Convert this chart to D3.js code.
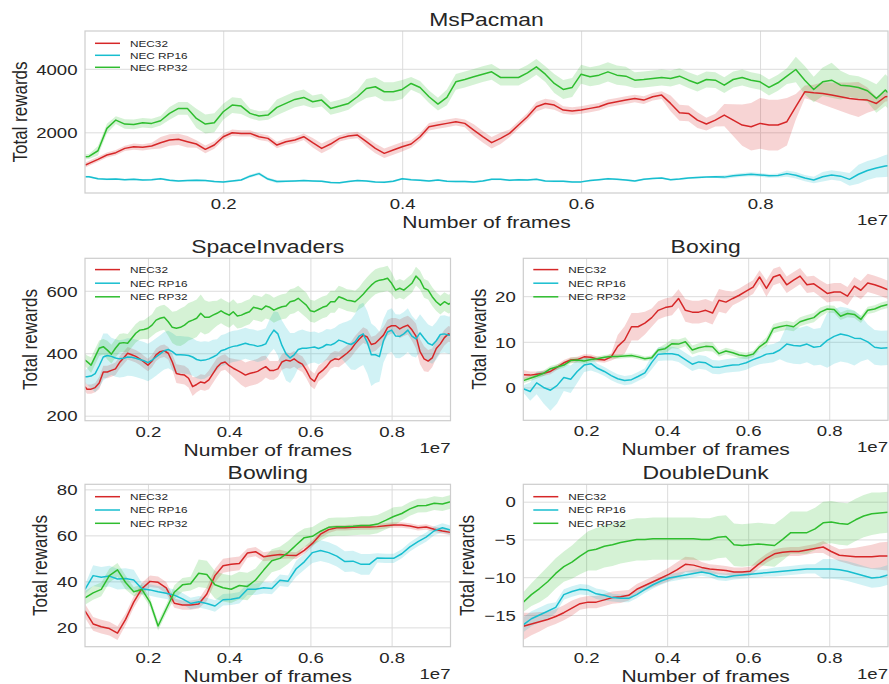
<!DOCTYPE html>
<html><head><meta charset="utf-8">
<script src="https://cdn.jsdelivr.net/npm/d3@7"></script>
<style>
html,body{margin:0;padding:0;background:#fff;}
svg{display:block;background:#fff;}
text{font-family:"Liberation Sans",Arial,Helvetica,sans-serif;fill:#262626;}
</style></head><body>
<svg id="chart" width="889" height="684"></svg>
<script>
// ---------------- DATA ----------------
const seriesNames = ["NEC32", "NEC RP16", "NEC RP32"];
const xTickValues = [0.2, 0.4, 0.6, 0.8];
const xLabel = "Number of frames";
const yLabel = "Total rewards";
const xOffsetText = "1e7";

// MsPacman
const msFrames = [0.046,0.05,0.06,0.07,0.08,0.09,0.10,0.11,0.12,0.13,0.14,0.15,0.16,0.17,0.18,0.19,0.20,0.21,0.22,0.23,0.24,0.25,0.26,0.27,0.28,0.29,0.30,0.31,0.32,0.33,0.34,0.35,0.36,0.37,0.38,0.39,0.40,0.41,0.42,0.43,0.44,0.45,0.46,0.47,0.48,0.49,0.50,0.51,0.52,0.53,0.54,0.55,0.56,0.57,0.58,0.59,0.60,0.61,0.62,0.63,0.64,0.65,0.66,0.67,0.68,0.69,0.70,0.71,0.72,0.73,0.74,0.75,0.76,0.77,0.78,0.79,0.80,0.81,0.82,0.83,0.84,0.85,0.86,0.87,0.88,0.89,0.90,0.91,0.92,0.93,0.94,0.943];
const msNEC32 = [971,1024,1150,1286,1360,1495,1548,1527,1569,1674,1758,1779,1705,1632,1464,1600,1862,1988,1967,1967,1862,1810,1600,1705,1758,1862,1674,1495,1632,1810,1883,1915,1705,1495,1338,1443,1548,1632,1862,2177,2229,2282,2334,2282,2072,1862,1674,1810,1967,2229,2491,2806,2910,2858,2701,2670,2701,2754,2806,2910,2963,3015,3067,3015,3120,3172,2910,2617,2596,2386,2261,2386,2544,2386,2229,2177,2282,2229,2229,2334,2806,3276,3244,3224,3172,3120,3067,3036,3015,2910,3120,3130];
const msRP16 = [605,600,540,520,530,510,525,500,510,540,490,470,480,490,480,450,440,470,500,620,700,530,450,460,470,480,470,460,420,410,450,480,470,440,430,460,540,510,490,470,500,460,450,450,440,470,520,520,490,510,500,520,470,460,460,440,440,480,510,540,520,500,470,520,550,560,510,530,560,580,590,600,590,630,660,680,660,630,640,700,650,560,500,600,660,620,520,680,800,880,940,950];
const msRP32 = [1233,1240,1420,2124,2386,2260,2250,2302,2281,2365,2596,2753,2753,2439,2260,2302,2648,2858,2826,2596,2512,2543,2785,2910,3036,3099,2963,3015,2753,2826,2910,3120,3382,3434,3277,3277,3350,3538,3413,3120,2889,3100,3590,3663,3747,3831,3904,3726,3726,3726,3873,4062,3831,3538,3350,3413,3831,3747,3800,3904,3800,3768,3642,3663,3695,3726,3695,3768,3642,3538,3663,3642,3485,3663,3726,3642,3590,3413,3560,3768,3978,3642,3350,3590,3642,3485,3455,3413,3308,3067,3329,3250];
const msNEC32Spread = [80,80,80,80,80,80,100,100,100,180,180,180,180,120,120,120,100,100,100,100,100,100,100,100,100,100,150,150,150,100,100,100,150,150,150,150,150,120,120,120,120,120,120,120,180,180,180,180,120,120,120,150,150,150,120,120,120,120,120,120,120,120,120,120,120,120,250,250,250,250,200,200,350,500,650,750,800,800,800,750,400,200,250,350,400,450,500,550,400,200,150,150];
const msRP16Spread = [30,30,30,30,30,30,30,30,30,30,30,30,30,30,30,30,30,30,30,50,50,50,50,30,30,30,30,30,30,30,30,30,30,30,30,30,30,30,30,30,30,30,30,30,30,30,30,30,30,30,30,30,30,30,30,30,30,30,30,30,30,30,30,30,30,30,30,30,30,30,30,30,60,60,60,60,60,60,60,100,100,100,100,150,150,150,200,300,300,300,350,350];
const msRP32Spread = [80,80,150,150,120,150,150,150,150,150,200,200,200,300,300,300,250,250,250,150,150,150,250,250,250,250,200,200,200,200,200,200,300,300,300,300,300,200,200,200,200,250,250,250,250,250,250,250,250,250,250,250,250,300,300,300,300,300,300,300,300,300,250,250,250,250,250,250,250,250,250,250,250,250,250,250,250,250,250,250,400,450,400,450,550,450,350,350,350,450,500,500];
const msYTicks = [2000, 4000];

// SpaceInvaders
const siFrames = [0.045,0.05,0.06,0.07,0.08,0.09,0.10,0.11,0.12,0.13,0.14,0.15,0.16,0.17,0.18,0.19,0.20,0.21,0.22,0.23,0.24,0.25,0.26,0.27,0.28,0.29,0.30,0.31,0.32,0.33,0.34,0.35,0.36,0.37,0.38,0.39,0.40,0.41,0.42,0.43,0.44,0.45,0.46,0.47,0.48,0.49,0.50,0.51,0.52,0.53,0.54,0.55,0.56,0.57,0.58,0.59,0.60,0.61,0.62,0.63,0.64,0.65,0.66,0.67,0.68,0.69,0.70,0.71,0.72,0.73,0.74,0.75,0.76,0.77,0.78,0.79,0.80,0.81,0.82,0.83,0.84,0.85,0.86,0.87,0.88,0.89,0.90,0.91,0.92,0.93,0.94,0.945];
const siNEC32 = [293,285,285,290,305,340,340,345,350,370,385,400,395,390,382,372,362,375,395,405,408,400,372,335,332,330,320,293,300,308,305,315,335,355,368,372,360,352,345,338,330,335,338,342,350,357,345,345,350,372,378,375,382,372,365,345,320,310,335,345,358,375,382,380,390,400,412,430,445,458,452,428,432,445,458,482,488,488,478,485,490,475,455,405,382,375,385,415,430,450,462,460];
const siRP16 = [325,325,327,335,360,388,393,390,385,382,384,388,387,384,380,376,370,378,388,398,408,412,405,395,395,394,393,388,380,377,378,382,388,395,408,412,418,422,424,428,432,428,426,422,425,430,455,474,462,425,398,385,395,412,416,416,418,420,415,420,428,426,432,442,438,432,428,436,455,462,435,395,395,389,440,468,474,455,454,462,474,455,446,465,448,432,426,440,460,462,458,458];
const siRP32 = [378,373,362,389,416,421,410,397,416,432,434,432,448,464,474,476,480,490,506,512,515,501,483,480,483,490,501,506,512,528,515,515,522,528,536,528,522,533,519,522,528,533,547,544,540,551,547,538,544,549,551,565,568,576,565,554,536,533,540,547,551,565,565,581,576,570,568,565,576,589,604,618,629,634,636,640,624,602,608,602,613,624,647,634,608,602,581,565,554,565,557,560];
const siNEC32Spread = [15,15,15,15,20,20,20,20,20,20,20,20,20,20,20,20,20,20,20,20,20,20,25,30,30,30,30,30,25,25,25,30,30,30,25,25,25,30,35,40,40,40,40,40,40,35,30,30,25,25,25,25,25,25,25,25,25,25,25,25,25,25,25,25,25,25,25,25,25,25,25,25,25,25,25,25,25,25,30,30,30,35,40,40,40,35,30,30,25,25,25,25];
const siRP16Spread = [20,25,40,60,70,75,70,60,60,60,60,60,60,60,60,60,60,60,60,60,60,60,60,60,60,60,60,60,60,60,60,55,55,50,50,50,50,50,50,50,50,50,50,50,50,50,55,60,70,80,85,80,70,60,60,55,50,50,50,50,50,50,50,50,60,70,80,90,100,100,100,100,90,80,70,70,70,70,70,70,70,65,60,60,60,60,60,60,60,60,60,60];
const siRP32Spread = [20,20,25,25,25,25,30,30,30,30,30,30,30,30,30,30,35,35,40,40,40,45,50,55,60,60,60,60,60,60,55,50,45,40,40,40,40,40,40,40,40,40,40,40,40,40,40,40,40,40,40,40,40,40,40,40,35,35,35,35,35,35,35,35,35,35,35,35,35,40,40,40,40,40,40,40,35,30,30,30,30,30,30,30,30,30,30,30,30,30,30,30];
const siYTicks = [200, 400, 600];

// Boxing
const boxFrames = [0.045,0.062,0.078,0.095,0.112,0.128,0.145,0.162,0.178,0.195,0.212,0.228,0.245,0.262,0.278,0.295,0.312,0.328,0.345,0.362,0.378,0.395,0.412,0.428,0.445,0.462,0.478,0.495,0.512,0.528,0.545,0.562,0.578,0.595,0.612,0.628,0.645,0.662,0.678,0.695,0.712,0.728,0.745,0.762,0.778,0.795,0.812,0.828,0.845,0.862,0.878,0.895,0.912,0.928,0.945];
const boxNEC32 = [2.8,2.7,2.9,3.1,3.5,4.4,5.4,6.0,6.1,6.7,6.6,6.2,6.0,6.7,9.0,10.4,13.3,13.3,14.1,15.3,16.9,17.5,17.8,19.5,16.9,16.5,16.5,16.9,16.3,19.1,18.7,19.5,20.2,21.1,22.0,24.2,21.7,24.2,24.7,22.5,23.5,24.4,22.5,22.7,21.7,20.6,20.9,20.9,20.0,22.2,21.3,22.9,22.5,22.0,21.4];
const boxRP16 = [-0.3,-0.9,1.0,0.0,-0.6,0.4,2.2,1.8,3.5,4.9,5.2,4.2,3.5,2.6,1.9,1.5,1.7,2.4,3.2,5.5,7.3,7.4,7.4,7.1,6.1,5.1,5.6,5.4,4.5,4.4,4.7,4.9,5.0,5.4,6.1,6.6,7.3,7.5,8.2,9.5,9.2,9.1,9.5,8.8,9.0,10.3,11.2,11.7,11.4,10.8,10.7,10.0,8.8,8.6,8.7];
const boxRP32 = [1.5,2.0,2.5,3.1,4.1,4.5,4.9,5.9,6.0,5.8,6.1,6.3,6.6,6.8,6.8,6.9,7.0,6.7,6.3,6.5,8.2,8.5,9.6,9.5,10.0,8.2,8.7,9.0,8.9,7.4,8.0,7.6,7.1,6.9,7.3,8.9,10.0,12.9,13.3,13.6,13.3,14.4,14.9,15.3,16.5,17.2,17.1,15.6,16.2,16.0,14.9,16.9,17.2,17.8,18.2];
const boxNEC32Spread = [1.0,0.8,0.6,0.6,0.6,0.6,0.6,0.6,0.6,0.6,0.6,0.6,0.6,0.8,2.5,3.0,3.0,3.0,2.5,2.0,2.0,2.0,2.0,2.0,2.5,2.5,2.5,2.5,2.5,2.5,2.5,1.5,1.5,1.5,1.5,1.5,1.8,1.8,1.8,1.8,1.8,1.8,1.8,1.8,1.8,2.0,2.0,2.0,2.0,2.0,2.0,2.0,2.0,2.0,2.0];
const boxRP16Spread = [0.8,2.0,2.5,3.5,4.5,4.0,3.0,3.0,2.5,1.5,1.5,1.0,1.0,1.0,1.0,1.0,1.0,1.0,1.0,1.5,1.5,1.5,1.5,1.5,1.5,1.5,1.5,1.5,1.5,1.5,1.5,1.5,1.5,1.5,1.5,1.5,2.0,2.0,2.0,4.0,4.0,4.0,4.0,4.0,4.0,6.0,6.0,6.0,6.0,6.0,5.0,3.8,3.8,3.8,3.8];
const boxRP32Spread = [0.6,0.6,0.6,0.6,0.6,0.6,0.6,0.6,0.6,0.6,0.6,0.5,0.5,0.5,0.5,0.5,0.5,0.5,0.5,0.5,0.5,1.0,1.0,1.0,1.0,1.0,1.0,1.0,1.0,0.7,0.7,0.7,0.7,0.7,0.7,0.7,1.0,1.0,1.0,1.0,1.0,1.0,1.0,1.0,1.0,0.8,0.8,0.8,0.8,0.8,0.8,0.8,0.8,0.8,0.8];
const boxYTicks = [0, 10, 20];

// Bowling and DoubleDunk share the same evaluation frames
const coarseFrames = [0.045,0.065,0.085,0.105,0.125,0.145,0.165,0.185,0.205,0.225,0.245,0.265,0.285,0.305,0.325,0.345,0.365,0.385,0.405,0.425,0.445,0.465,0.485,0.505,0.525,0.545,0.565,0.585,0.605,0.625,0.645,0.665,0.685,0.705,0.725,0.745,0.765,0.785,0.805,0.825,0.845,0.865,0.885,0.905,0.925,0.945];

// Bowling
const bowlNEC32 = [27.2,21.5,20.3,19.5,17.5,23.5,31.0,36.8,40.0,39.6,37.2,30.5,29.7,29.7,30.2,34.5,42.5,46.8,47.4,47.8,52.3,52.9,50.7,51.2,51.7,51.4,51.2,53.5,56.5,60.5,62.5,63.3,63.3,63.5,63.6,63.6,63.8,64.2,64.5,64.5,64.1,63.3,63.6,62.7,61.9,61.3];
const bowlRP16 = [36.5,42.5,41.8,42.3,41.0,41.2,40.6,36.8,36.3,35.5,34.8,34.0,32.4,30.4,31.1,30.4,29.3,32.0,32.2,32.9,36.6,36.6,37.2,36.9,40.5,40.1,45.5,48.5,52.5,53.4,52.5,51.0,48.6,48.8,47.4,47.4,50.2,50.0,50.0,52.0,55.0,57.3,59.2,62.0,63.3,62.3];
const bowlRP32 = [32.8,35.0,36.5,42.5,45.0,39.5,35.5,36.5,31.0,20.6,28.0,35.3,38.5,39.0,43.5,43.0,38.5,37.2,36.6,38.2,37.8,40.6,44.9,49.0,50.0,52.5,55.8,59.0,59.6,61.8,63.5,63.8,63.8,64.0,64.3,64.3,64.9,66.5,68.2,69.5,71.5,72.9,73.0,74.0,73.6,74.6];
const bowlNEC32Spread = [3,3,3,3,3,2.5,2.5,2.5,2.5,2.5,2.5,2,2,2,2,3,3,3,3,3,2,2,2,2,2,1.5,1.5,1.5,1.5,1.5,1.5,1.2,1.2,1.2,1.2,1.2,1.2,1.2,1.2,1.2,1.2,1.2,1.2,1.2,1.2,1.2];
const bowlRP16Spread = [2,4.5,4.5,4.5,4.5,4.5,4.5,2.5,2.5,2.5,2.5,2.5,2.5,2.5,2.5,2.5,2.5,2.5,2.5,2.5,2.5,2.5,2.5,2.5,2.5,2.5,3.5,3.5,4.5,4.5,4.5,4.5,4.5,4.5,4.5,4.5,2,2,2,2,2,2,2,2,2,2];
const bowlRP32Spread = [3,3,3,3,3,3,2,2,2,2,2,3,3,3,6,6,6,6,6,6,6,5,5,5,5,5,5,4,4,4,4,4,4,4,4,4,4,4,4,3,3,3,3,3,3,3];
const bowlYTicks = [20, 40, 60, 80];

// DoubleDunk
const ddNEC32 = [-16.5,-16.2,-15.9,-15.6,-15.2,-14.7,-14.1,-13.5,-13.3,-13.3,-13.0,-12.7,-12.6,-12.4,-11.6,-11.1,-10.6,-10.1,-9.6,-9.0,-8.3,-8.4,-8.7,-8.9,-9.0,-9.1,-9.3,-9.3,-9.2,-8.3,-7.5,-6.9,-6.7,-6.6,-6.6,-6.4,-6.2,-6.0,-6.6,-7.1,-7.2,-7.3,-7.3,-7.3,-7.2,-7.2];
const ddRP16 = [-16.3,-15.5,-15.0,-14.5,-14.0,-12.3,-11.9,-11.6,-11.7,-12.2,-12.4,-12.7,-12.8,-12.8,-12.3,-11.6,-11.0,-10.5,-10.1,-9.9,-9.7,-9.5,-9.3,-9.5,-9.9,-10.0,-9.8,-9.7,-9.6,-9.5,-9.4,-9.3,-9.2,-9.1,-9.0,-8.9,-8.9,-8.9,-8.9,-9.0,-9.2,-9.5,-9.8,-10.1,-10.0,-9.7];
const ddRP32 = [-13.3,-12.3,-11.5,-10.6,-9.5,-8.6,-8.0,-7.2,-6.5,-6.3,-5.9,-5.7,-5.4,-5.2,-5.0,-5.0,-4.9,-4.9,-4.9,-4.9,-4.9,-4.9,-5.0,-5.0,-4.7,-4.6,-5.7,-5.8,-5.7,-5.6,-5.7,-5.8,-5.0,-4.1,-4.1,-4.1,-3.6,-2.8,-2.7,-2.9,-3.0,-2.4,-1.9,-1.6,-1.5,-1.4];
const ddNEC32Spread = [1.8,1.5,1.3,1.0,1.0,1.0,1.0,0.8,0.8,0.8,0.8,0.8,0.8,0.7,0.7,0.7,0.7,0.8,0.9,1.0,1.0,1.0,0.7,0.6,0.6,0.6,0.6,0.6,0.6,0.6,0.6,0.6,0.6,0.6,0.6,0.6,0.6,0.8,0.8,0.8,1.0,1.2,1.4,1.6,1.8,1.9];
const ddRP16Spread = [1.0,1.0,1.0,1.0,0.7,0.7,0.7,0.7,0.7,0.7,0.7,0.5,0.5,0.5,0.5,0.5,0.5,0.5,0.5,0.5,0.5,0.5,0.5,0.5,0.5,0.5,0.5,0.5,0.5,0.5,0.5,0.6,0.6,0.6,0.6,0.6,0.6,1.3,1.3,1.3,1.3,1.3,1.3,1.3,1.3,1.3];
const ddRP32Spread = [1.3,1.5,1.8,2.0,2.0,2.0,2.2,2.4,2.6,2.8,2.8,2.8,2.8,2.8,2.8,2.8,2.8,2.8,2.8,2.8,2.8,2.8,2.8,2.8,2.8,2.8,2.8,2.8,2.8,2.8,2.8,2.8,2.8,2.8,2.8,2.8,2.8,2.8,2.8,2.8,2.8,2.8,2.8,2.8,2.7,2.7];
const ddYTicks = [-15, -10, -5, 0];

// ---------------- STYLE / LAYOUT ----------------
const colors = ["#d62728", "#17becf", "#2ebd2e"];
const TS = 1.24; // horizontal stretch of the original figure's text

const panels = [
  {title:"MsPacman", frames:msFrames, series:[msNEC32,msRP16,msRP32], spreads:[msNEC32Spread,msRP16Spread,msRP32Spread],
   yTicks:msYTicks, xDomain:[0.0455,0.943], yDomain:[90,5190], box:{l:85,r:888,t:31,b:193}, ylabX:27.3, leg:{y0:12.3,gap:12}},
  {title:"SpaceInvaders", frames:siFrames, series:[siNEC32,siRP16,siRP32], spreads:[siNEC32Spread,siRP16Spread,siRP32Spread],
   yTicks:siYTicks, xDomain:[0.045,0.945], yDomain:[184,704], box:{l:85,r:450.5,t:258.3,b:420.7}, ylabX:36.7, leg:{y0:11.3,gap:13.6}},
  {title:"Boxing", frames:boxFrames, series:[boxNEC32,boxRP16,boxRP32], spreads:[boxNEC32Spread,boxRP16Spread,boxRP32Spread],
   yTicks:boxYTicks, xDomain:[0.045,0.945], yDomain:[-7.2,28.3], box:{l:523.3,r:888,t:258.3,b:420.3}, ylabX:486, leg:{y0:11.3,gap:13.6}},
  {title:"Bowling", frames:coarseFrames, series:[bowlNEC32,bowlRP16,bowlRP32], spreads:[bowlNEC32Spread,bowlRP16Spread,bowlRP32Spread],
   yTicks:bowlYTicks, xDomain:[0.045,0.945], yDomain:[11.6,82.2], box:{l:85,r:450.5,t:484.3,b:646.7}, ylabX:46.7, leg:{y0:12.4,gap:13.3}},
  {title:"DoubleDunk", frames:coarseFrames, series:[ddNEC32,ddRP16,ddRP32], spreads:[ddNEC32Spread,ddRP16Spread,ddRP32Spread],
   yTicks:ddYTicks, xDomain:[0.045,0.945], yDomain:[-19.2,2.3], box:{l:523.3,r:888,t:484.3,b:646.7}, ylabX:474, leg:{y0:12.4,gap:13.3}}
];

const svg = d3.select("#chart");
const st = (x, y, rot) => `translate(${x},${y}) scale(${TS},1)` + (rot ? ` rotate(${rot})` : "");

panels.forEach((p, pi) => {
  const b = p.box, w = b.r - b.l, h = b.b - b.t;
  const x = d3.scaleLinear().domain(p.xDomain).range([b.l, b.r]);
  const y = d3.scaleLinear().domain(p.yDomain).range([b.b, b.t]);
  const g = svg.append("g");

  g.append("rect").attr("x", b.l).attr("y", b.t).attr("width", w).attr("height", h).attr("fill", "#fff");

  // grid + tick labels via axes
  const xa = g.append("g").attr("transform", `translate(0,${b.b})`)
    .call(d3.axisBottom(x).tickValues(xTickValues).tickSize(-h).tickFormat(d3.format(".1f")));
  xa.select(".domain").remove();
  xa.selectAll(".tick line").attr("stroke", "#dcdcdc").attr("stroke-width", 1);
  xa.selectAll(".tick text").attr("y", null).attr("dy", null).attr("font-size", 15)
    .attr("text-anchor", "middle").attr("transform", st(0, 16));

  const ya = g.append("g").attr("transform", `translate(${b.l},0)`)
    .call(d3.axisLeft(y).tickValues(p.yTicks).tickSize(-w).tickFormat(d3.format("d")));
  ya.select(".domain").remove();
  ya.selectAll(".tick line").attr("stroke", "#dcdcdc").attr("stroke-width", 1);
  ya.selectAll(".tick text").attr("x", null).attr("dy", "0.35em").attr("font-size", 15)
    .attr("text-anchor", "end").attr("transform", st(-7.5, 0));

  // clip
  const cid = "clip" + pi;
  g.append("clipPath").attr("id", cid).append("rect")
    .attr("x", b.l).attr("y", b.t).attr("width", w).attr("height", h);
  const dg = g.append("g").attr("clip-path", `url(#${cid})`);

  p.series.forEach((vals, si) => {
    const sp = p.spreads[si];
    const area = d3.area()
      .x((d, i) => x(p.frames[i]))
      .y0((d, i) => y(d - sp[i]))
      .y1((d, i) => y(d + sp[i]));
    dg.append("path").attr("d", area(vals)).attr("fill", colors[si]).attr("fill-opacity", 0.2).attr("stroke", "none");
  });
  p.series.forEach((vals, si) => {
    const line = d3.line().x((d, i) => x(p.frames[i])).y(d => y(d));
    dg.append("path").attr("d", line(vals)).attr("fill", "none")
      .attr("stroke", colors[si]).attr("stroke-width", 1.5).attr("stroke-linejoin", "round");
  });

  // spines
  g.append("rect").attr("x", b.l).attr("y", b.t).attr("width", w).attr("height", h)
    .attr("fill", "none").attr("stroke", "#cdcdcd").attr("stroke-width", 1.2);

  // legend
  seriesNames.forEach((name, si) => {
    const ly = b.t + p.leg.y0 + si * p.leg.gap;
    g.append("line").attr("x1", b.l + 10).attr("x2", b.l + 35).attr("y1", ly).attr("y2", ly)
      .attr("stroke", colors[si]).attr("stroke-width", 1.5);
    g.append("text").attr("font-size", 9.5).attr("dy", "0.35em").attr("transform", st(b.l + 45, ly)).text(name);
  });

  // titles & labels
  const cx = (b.l + b.r) / 2;
  g.append("text").attr("font-size", 18.5).attr("text-anchor", "middle").attr("transform", st(cx, b.t - 5.5)).text(p.title);
  g.append("text").attr("font-size", 17).attr("text-anchor", "middle").attr("transform", st(cx, b.b + 35)).text(xLabel);
  g.append("text").attr("font-size", 15).attr("text-anchor", "end").attr("transform", st(b.r, b.b + 32)).text(xOffsetText);
  g.append("text").attr("font-size", 17).attr("text-anchor", "middle")
    .attr("transform", st(p.ylabX, (b.t + b.b) / 2, -90)).text(yLabel);
});
</script>
</body></html>
